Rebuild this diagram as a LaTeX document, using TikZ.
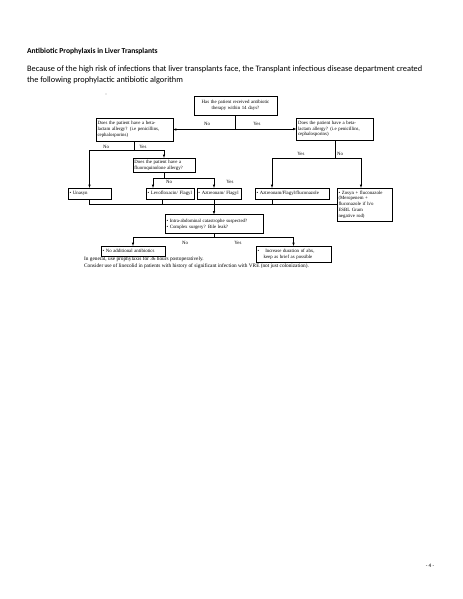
\documentclass[tikz,border=0pt]{standalone}
\usepackage{fontspec}
\setmainfont{Liberation Serif}
\newfontfamily\carlito{Carlito}
\usetikzlibrary{arrows.meta}
\newcommand{\flow}{\fontsize{6.4}{7.6}\selectfont}
\def\px{1.3218pt}

\begin{document}
\begin{tikzpicture}[x=1.3218pt, y=-1.3218pt,
    scatola/.style 2 args={draw, line width=0.5pt, font=\flow, align=left,
        inner xsep=2pt, inner ysep=1pt, text width=#1, minimum height=#2},
    etich/.style={font=\flow, inner sep=0pt},
    freccia/.style={-latex, line width=0.5pt}]
    % Pagina
    \useasboundingbox[fill=white] (0,0) rectangle (463,599);
    % Testo
    \node[anchor=base west, inner sep=0pt, font={\carlito\bfseries\fontsize{10}{12}\selectfont}] (titolo) at (27,53.5) {Antibiotic Prophylaxis in Liver Transplants};
    \node[anchor=base west, inner sep=0pt, align=left, font={\carlito\fontsize{11}{14.5}\selectfont}] (intro) at (27,82.5) {Because of the high risk of infections that liver transplants face, the Transplant infectious disease department created\\the following prophylactic antibiotic algorithm};
    \fill (106,94) circle (0.4pt);
    % Scatole
    \node[scatola={105.7pt}{25.1pt}, align=center] (terapia) at (235.5,105.5) {Has the patient received antibiotic\\therapy within 14 days?};
    \node[scatola={97.8pt}{30.4pt}] (betasx) at (134.5,129.5) {Does the patient have a beta-\\lactam allergy? (i.e penicillins,\\cephalosporins)};
    \node[scatola={97.8pt}{29.1pt}] (betadx) at (335,129) {Does the patient have a beta-\\lactam allergy? (i.e penicillins,\\cephalosporins)};
    \node[scatola={78pt}{18.5pt}] (fluoro) at (164,165) {Does the patient have a\\fluoroquinolone allergy?};
    \node[scatola={52.8pt}{14.5pt}] (unasyn) at (89.5,193.5) {\textbullet\ Unasyn};
    \node[scatola={59.4pt}{14.5pt}] (levo) at (170,193.5) {\textbullet\ Levofloxacin/ Flagyl};
    \node[scatola={54.2pt}{14.5pt}] (azt) at (219,193.5) {\textbullet\ Aztreonam/ Flagyl};
    \node[scatola={93.8pt}{14.5pt}] (azf) at (292,193.5) {\textbullet\ Aztreonam/Flagyl/fluconazole};
    \node[scatola={68.7pt}{43.6pt}] (zosyn) at (364.5,204.5) {\textbullet\ Zosyn + fluconazole\\(Meropenem +\\fluconazole if h/o\\ESBL Gram\\negative rod)};
    \node[scatola={125.5pt}{25.1pt}] (intra) at (214,224) {\textbullet\ Intra-abdominal catastrophe suspected?\\\textbullet\ Complex surgery? Bile leak?};
    \node[scatola={80.6pt}{13.2pt}] (noadd) at (133,251) {\textbullet\ No additional antibiotics};
    \node[scatola={95.1pt}{21.1pt}] (incr) at (293.5,254) {\textbullet\hspace{8pt}Increase duration of abx,\\\hspace{8pt}keep as brief as possible};
    % Frecce
    \draw[freccia] (terapia.south) |- (betasx.east);
    \draw[freccia] (terapia.south) |- (betadx.west);
    \draw[freccia] (betasx.south) -- ++(0,9) -| (unasyn.north);
    \draw[freccia] (betasx.south) -- ++(0,9) -| (fluoro.north);
    \draw[freccia] (fluoro.south) -- ++(0,6) -| ([xshift=-17*\px]levo.north);
    \draw[freccia] (fluoro.south) -- ++(0,6) -| ([xshift=-5*\px]azt.north);
    \draw[freccia] (betadx.south) -- ++(0,18) -| ([xshift=-20*\px]azf.north);
    \draw[freccia] (betadx.south) -- ++(0,18) -| ([xshift=-3.5*\px]zosyn.north);
    \draw[line width=0.5pt] (unasyn.south) |- (zosyn.west);
    \draw[line width=0.5pt] ([xshift=-8*\px]levo.south) -- ++(0,5.5);
    \draw[line width=0.5pt] ([xshift=-20*\px]azf.south) -- ++(0,5.5);
    \draw[freccia] ([xshift=-5*\px]azt.south) -- (intra.north);
    \draw[freccia] (intra.south) -- ++(0,4) -| (noadd.north);
    \draw[freccia] (intra.south) -- ++(0,4) -| (incr.north);
    % Etichette
    \node[etich] (tno) at (207,124) {No};
    \node[etich] (tyes) at (257,124) {Yes};
    \node[etich] (sno) at (106,147) {No};
    \node[etich] (syes) at (143,147) {Yes};
    \node[etich] (fno) at (169,181.5) {No};
    \node[etich] (fyes) at (230,181.5) {Yes};
    \node[etich] (dyes) at (301,153.5) {Yes};
    \node[etich] (dno) at (340,153.5) {No};
    \node[etich] (ino) at (185,243) {No};
    \node[etich] (iyes) at (238,243) {Yes};
    % Note
    \node[anchor=base west, inner sep=0pt, align=left, font={\fontsize{7}{9}\selectfont}] (note) at (84,267) {In general, use prophylaxis for 36 hours postoperatively.\\Consider use of linezolid in patients with history of significant infection with VRE (not just colonization).};
    \node[anchor=base, inner sep=0pt, font={\carlito\fontsize{7}{8}\selectfont}] (pagina) at (430,567) {- 4 -};
\end{tikzpicture}
\end{document}
